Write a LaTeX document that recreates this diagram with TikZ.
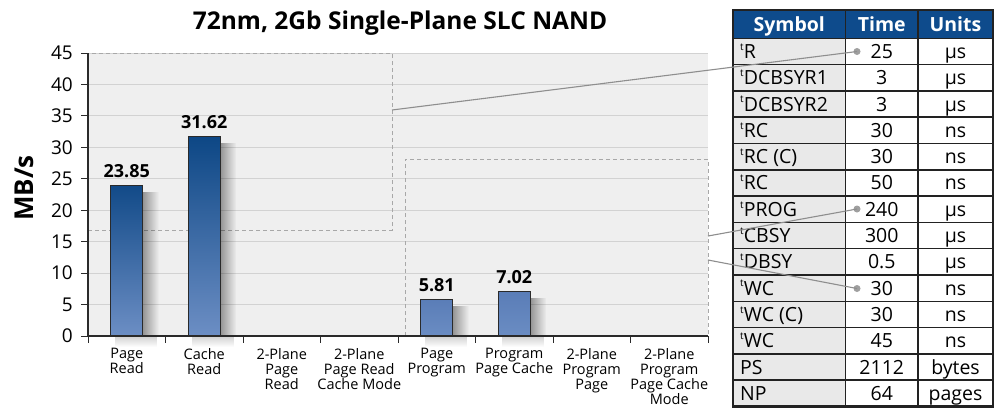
\documentclass[tikz,border=0pt]{standalone}
\usepackage{fontspec}
\setmainfont{Open Sans}
\usetikzlibrary{fadings}
\definecolor{plotbg}{HTML}{EFEFEF}
\definecolor{gridc}{HTML}{D2D2D2}
\definecolor{axisc}{HTML}{2A2A2A}
\definecolor{dashc}{HTML}{A8A8A8}
\definecolor{linkc}{HTML}{8E8E8E}
\definecolor{hdrblue}{HTML}{0E4B8C}
\definecolor{symbg}{HTML}{E9E9E9}
\definecolor{tblline}{HTML}{222222}
\definecolor{bardark}{HTML}{0D4785}
\definecolor{barmid}{HTML}{3F67A3}
\definecolor{barlight}{HTML}{6C8EC4}
\definecolor{barshort}{HTML}{5A7DB7}
\newcommand\tsup{\raisebox{0.42em}{\fontsize{10}{10}\selectfont t}\kern0.2pt}
\tikzset{
  bar/.style={draw=axisc, line width=0.9pt, minimum width=32pt, inner sep=0pt, anchor=south},
  shadowside/.style={fill=black, opacity=0.38, path fading=east},
  shadowfoot/.style={fill=black, opacity=0.18, path fading=south},
  val/.style={font=\fontsize{18}{18}\selectfont\bfseries, inner sep=0pt, anchor=south},
  ytl/.style={font=\fontsize{19}{19}\selectfont, inner sep=0pt, anchor=east},
  cat/.style={font=\fontsize{14.5}{15}\selectfont, align=center, inner sep=0pt, anchor=north},
  boxdash/.style={draw=dashc, line width=1pt, dash pattern=on 4pt off 3pt},
  link/.style={draw=linkc, line width=1.1pt},
  dot/.style={circle, fill=linkc!85, inner sep=0pt, minimum size=7pt},
  cell/.style={font=\fontsize{19.5}{19.5}\selectfont, inner sep=0pt},
  hdr/.style={font=\fontsize{19.5}{19.5}\selectfont\bfseries, text=white, inner sep=0pt, anchor=base},
}
\begin{document}
\begin{tikzpicture}[x=1pt,y=-1pt]
\useasboundingbox[fill=white] (0,0) rectangle (995,408);
% title
\node[font=\fontsize{24.5}{24.5}\selectfont\bfseries, inner sep=0pt] (title) at (400,23) {72nm, 2Gb Single-Plane SLC NAND};
% plot background and grid
\fill[plotbg] (88,53) rectangle (708,336);
\foreach \v in {5,10,...,45} {
  \draw[gridc, line width=0.8pt] (88,{336-\v*283/45}) -- (708,{336-\v*283/45});
}
% dashed group boxes
\draw[boxdash] (88,230) -- (392,230) -- (392,53) -- (88,53);
\draw[boxdash] (405,336) -- (405,159) -- (708,159) -- (708,336);
% bar shadows
\foreach \cx/\h in {126.75/150, 204.25/198.9, 436.75/36.5, 514.25/44.1} {
  \fill[shadowside] (\cx+16,{336-\h+6}) rectangle (\cx+32,336);
  \fill[shadowfoot] (\cx-12,336) rectangle (\cx+30,347);
}
% axes
\foreach \v in {0,5,...,45} {
  \draw[axisc, line width=1pt] (81,{336-\v*283/45}) -- (88,{336-\v*283/45});
  \node[ytl] (yl\v) at (73,{336-\v*283/45}) {\v};
}
\foreach \i in {0,...,8} {
  \draw[axisc, line width=1pt] ({88+77.5*\i},336) -- ({88+77.5*\i},343);
}
\draw[axisc, line width=1.4pt] (88,53) -- (88,336) -- (708,336);
\node[font=\fontsize{26}{26}\selectfont\bfseries, rotate=90, inner sep=0pt] (ylab) at (24,188) {MB/s};
% bars
\node[bar, minimum height=150pt, top color=bardark!90!barmid, bottom color=barlight] (b1) at (126.75,336) {};
\node[bar, minimum height=198.9pt, top color=bardark, bottom color=barlight] (b2) at (204.25,336) {};
\node[bar, minimum height=36.5pt, top color=barshort, bottom color=barlight!90!barshort] (b5) at (436.75,336) {};
\node[bar, minimum height=44.1pt, top color=barshort, bottom color=barlight!90!barshort] (b6) at (514.25,336) {};
\node[val, above=7pt] (v1) at (b1.north) {23.85};
\node[val, above=7pt] (v2) at (b2.north) {31.62};
\node[val, above=7pt] (v5) at (b5.north) {5.81};
\node[val, above=7pt] (v6) at (b6.north) {7.02};
% redraw axis over bars
\draw[axisc, line width=1.4pt] (88,336) -- (708,336);
% category labels
\node[cat] (c1) at (126.75,348) {Page\\Read};
\node[cat] (c2) at (204.25,348) {Cache\\Read};
\node[cat] (c3) at (281.75,348) {2-Plane\\Page\\Read};
\node[cat] (c4) at (359.25,348) {2-Plane\\Page Read\\Cache Mode};
\node[cat] (c5) at (436.75,348) {Page\\Program};
\node[cat] (c6) at (514.25,348) {Program\\Page Cache};
\node[cat] (c7) at (591.75,348) {2-Plane\\Program\\Page};
\node[cat] (c8) at (669.25,348) {2-Plane\\Program\\Page Cache\\Mode};
% table
\fill[hdrblue] (733,10) rectangle (993,38.3);
\fill[symbg] (733,38.3) rectangle (845.5,406.5);
\node[hdr] (hs) at (789.25,31) {Symbol};
\node[hdr] (ht) at (881.75,31) {Time};
\node[hdr] (hu) at (955.5,31) {Units};
\foreach \s/\t/\u [count=\k from 0] in {{\tsup R}/25/µs, {\tsup DCBSYR1}/3/µs, {\tsup DCBSYR2}/3/µs, {\tsup RC}/30/ns, {\tsup RC (C)}/30/ns, {\tsup RC}/50/ns, {\tsup PROG}/240/µs, {\tsup CBSY}/300/µs, {\tsup DBSY}/0.5/µs, {\tsup WC}/30/ns, {\tsup WC (C)}/30/ns, {\tsup WC}/45/ns, PS/2112/bytes, NP/64/pages} {
  \pgfmathsetmacro\yb{38.3+26.3*(\k+0.5)+7}
  \node[cell, anchor=base west] (s\k) at (740,\yb) {\s};
  \node[cell, anchor=base] (t\k) at (881.75,\yb) {\t};
  \node[cell, anchor=base] (u\k) at (955.5,\yb) {\u};
}
\foreach \k in {1,...,13} {
  \draw[tblline, line width=1.5pt] (733,{38.3+26.3*\k}) -- (993,{38.3+26.3*\k});
}
\draw[tblline, line width=1.5pt] (733,38.3) -- (993,38.3);
\draw[tblline, line width=1.5pt] (845.5,10) -- (845.5,406.5);
\draw[tblline, line width=1.5pt] (918,10) -- (918,406.5);
\draw[tblline, line width=2.4pt] (733,10) rectangle (993,406.5);
% connectors
\coordinate (k1) at (392,110);
\coordinate (k2) at (708,236);
\coordinate (k3) at (708,260);
\node[dot] (d1) at (857,51.5) {};
\node[dot] (d2) at (857,209) {};
\node[dot] (d3) at (857,288.5) {};
\draw[link] (k1) -- (d1.center);
\draw[link] (k2) -- (d2.center);
\draw[link] (k3) -- (d3.center);
\end{tikzpicture}
\end{document}
